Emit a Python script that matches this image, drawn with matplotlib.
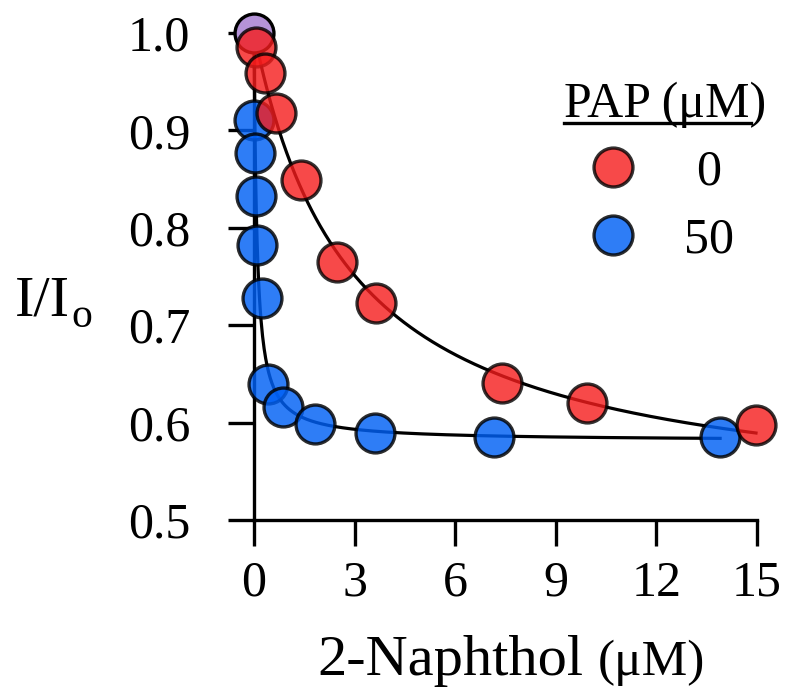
import numpy as np
from matplotlib import pyplot as plt
from matplotlib.lines import Line2D

# 2-Naphthol concentration (uM) and relative intensity I/Io
naph_pap0 = [0.0, 0.07, 0.33, 0.66, 1.40, 2.48, 3.64, 7.40, 9.93, 14.97]
ratio_pap0 = [1.000, 0.986, 0.959, 0.918, 0.849, 0.765, 0.723, 0.641, 0.620, 0.598]

naph_pap50 = [0.0, 0.0, 0.03, 0.06, 0.09, 0.24, 0.42, 0.87, 1.82, 3.60, 7.16, 13.90]
ratio_pap50 = [1.000, 0.911, 0.877, 0.833, 0.782, 0.728, 0.640, 0.616, 0.599, 0.589, 0.585, 0.585]

pap_labels = ['0', '50']
x_ticks = [0, 3, 6, 9, 12, 15]
y_ticks = [0.5, 0.6, 0.7, 0.8, 0.9, 1.0]

red = '#f51c1c'
blue = '#0060f5'
purple = '#b593d8'

plt.rcParams['font.family'] = ['Liberation Serif', 'DejaVu Serif']


def fit_binding(x, y):
    # simple hyperbolic quench fit: y = 1 - A*x/(K+x)
    x = np.asarray(x)
    y = np.asarray(y)
    best = None
    for K in np.logspace(-3, 2, 3000):
        f = x / (K + x)
        A = np.sum(f * (1 - y)) / np.sum(f * f)
        err = np.sum((1 - A * f - y) ** 2)
        if best is None or err < best[0]:
            best = (err, K, A)
    return best[1], best[2]


fig = plt.figure(figsize=(7.85, 6.92), dpi=100)
ax = fig.add_axes([254 / 785, 1 - 520 / 692, 503 / 785, 487 / 692])

# Fitted curves
for xs, ys in [(naph_pap0, ratio_pap0), (naph_pap50, ratio_pap50)]:
    K, A = fit_binding(xs, ys)
    xx = np.linspace(0, max(xs), 600)
    ax.plot(xx, 1 - A * xx / (K + xx), color='black', lw=2.3, zorder=2, clip_on=False)

# Data points
ms = 28
mew = 2.4
ax.plot(naph_pap50[1:], ratio_pap50[1:], 'o', ms=ms, mfc=blue, mec='black', mew=mew,
        alpha=0.82, ls='none', zorder=3, clip_on=False)
ax.plot(naph_pap0[0], ratio_pap0[0], 'o', ms=ms, mfc=purple, mec='black', mew=mew,
        ls='none', zorder=3, clip_on=False)
ax.plot(naph_pap0[1:], ratio_pap0[1:], 'o', ms=ms, mfc=red, mec='black', mew=mew,
        alpha=0.8, ls='none', zorder=4, clip_on=False)

ax.set_xlim(0, 15)
ax.set_ylim(0.5, 1.0)
ax.set_xticks(x_ticks)
ax.set_yticks(y_ticks)
ax.set_xticklabels([str(t) for t in x_ticks])
ax.set_yticklabels(['%.1f' % t for t in y_ticks])
ax.spines['top'].set_visible(False)
ax.spines['right'].set_visible(False)
for s in ['left', 'bottom']:
    ax.spines[s].set_linewidth(2.4)
ax.tick_params(axis='both', direction='out', length=19, width=2.4, labelsize=36)
ax.tick_params(axis='y', pad=27)
ax.tick_params(axis='x', pad=10)
ax.patch.set_visible(False)

# Axis labels
fig.text(317 / 785, 1 - 675 / 692, '2-Naphthol', fontsize=42, va='baseline', ha='left')
fig.text(598 / 785, 1 - 675 / 692, '(μM)', fontsize=37, va='baseline', ha='left')
fig.text(15 / 785, 1 - 315 / 692, 'I/I', fontsize=42, va='baseline', ha='left')
fig.text(71 / 785, 1 - 327 / 692, 'o', fontsize=30, va='baseline', ha='left')

# Legend
title = fig.text(665 / 785, 1 - 117 / 692, 'PAP (μM)', fontsize=36, va='baseline', ha='center')
fig.canvas.draw()
bb = title.get_window_extent()
uy = 1 - 123 / 692
fig.add_artist(Line2D([bb.x0 / 785, (bb.x1 - 15) / 785], [uy, uy], color='black', lw=2.4))
for lab, c, py, a in [(pap_labels[0], red, 167, 0.8), (pap_labels[1], blue, 235, 0.82)]:
    fig.add_artist(Line2D([613 / 785], [1 - py / 692], marker='o', ms=ms, mfc=c, mec='black',
                          mew=mew, alpha=a, ls='none'))
    fig.text(709 / 785, 1 - py / 692, lab, fontsize=36, va='center_baseline', ha='center')

fig.savefig('out.png', dpi=100)
